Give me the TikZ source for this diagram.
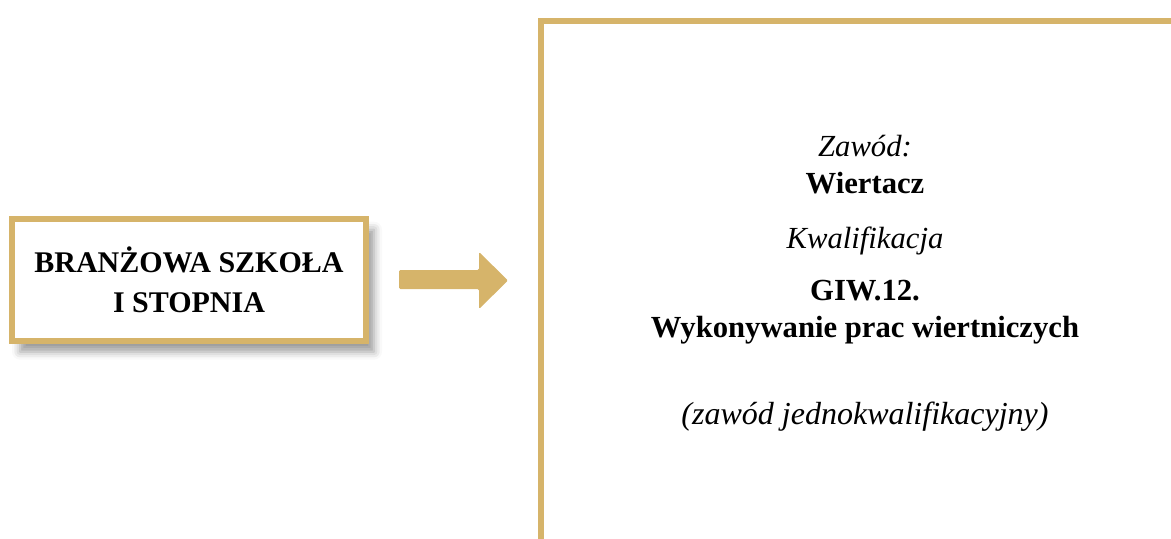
\documentclass[tikz,border=0pt]{standalone}
\usepackage{fontspec}
\setmainfont{Liberation Serif}
\usetikzlibrary{shadows.blur}
\definecolor{zloty}{RGB}{214,180,106}
\tikzset{
  szkolabox/.style={draw=zloty,line width=4.5pt,fill=white,align=center,
    minimum width=265.5pt,minimum height=91.5pt,inner sep=0pt,
    font=\fontsize{22.5}{30}\selectfont\bfseries,
    blur shadow={shadow xshift=6pt,shadow yshift=-8pt,shadow blur radius=6pt,shadow opacity=40}},
  napis/.style={anchor=base,inner sep=0pt,font=\fontsize{23}{27}\selectfont}
}
\begin{document}
\begin{tikzpicture}[x=0.75pt,y=0.75pt,yscale=-1]
\useasboundingbox (0,0) rectangle (1171,539);
\clip (0,0) rectangle (1171,539);

% szkola
\node [szkolabox] (szkola) at (189,280) {BRANŻOWA SZKOŁA\\I STOPNIA};

% strzalka
\fill [zloty,rounded corners=1pt] (399,270) -- (479,270) -- (479,252) -- (508,280.5)
  -- (479,309) -- (479,289) -- (399,289) -- cycle;

% ramka zawodu
\draw [zloty,line width=4.3pt] (541,21) rectangle (1220,580);

\node [napis] (zawod) at (865,156) {\itshape Zawód:};
\node [napis] (wiertacz) at (865,193) {\bfseries Wiertacz};
\node [napis] (kwal) at (865,248) {\itshape Kwalifikacja};
\node [napis] (giw) at (865,300) {\bfseries GIW.12.};
\node [napis] (prace) at (865,337) {\bfseries Wykonywanie prac wiertniczych};
\node [napis,font=\fontsize{24}{27}\selectfont] (jedno) at (865,424) {\itshape (zawód jednokwalifikacyjny)};

\end{tikzpicture}
\end{document}
